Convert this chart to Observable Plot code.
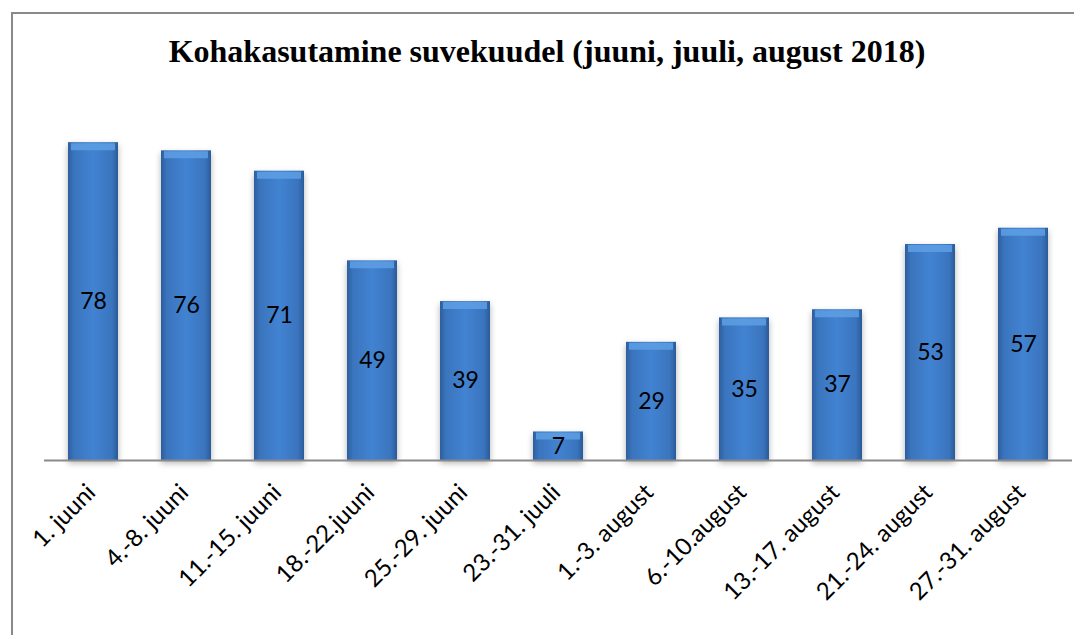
<!DOCTYPE html>
<html>
<head>
<meta charset="utf-8">
<script src="https://cdn.jsdelivr.net/npm/d3@7"></script>
<script src="https://cdn.jsdelivr.net/npm/@observablehq/plot@0.6"></script>
<style>
  html, body { margin: 0; padding: 0; background: #fff; }
  #wrap { position: relative; width: 1074px; height: 635px; overflow: hidden; }
  #frame { position: absolute; left: 11px; top: 12px; width: 1200px; height: 800px; border: 2px solid #8a8a8a; box-sizing: border-box; }
  #title { position: absolute; left: 0; top: 33px; width: 1094px; text-align: center; font-family: "Liberation Serif", "Times New Roman", serif; font-weight: bold; font-size: 32px; color: #000; white-space: nowrap; }
  #chart { position: absolute; left: 0; top: 0; }
</style>
</head>
<body>
<div id="wrap">
  <div id="frame"></div>
  <div id="chart"></div>
  <div id="title">Kohakasutamine suvekuudel (juuni, juuli, august 2018)</div>
</div>
<script>
const categories = ["1. juuni", "4.-8. juuni", "11.-15. juuni", "18.-22.juuni", "25.-29. juuni", "23.-31. juuli", "1.-3. august", "6.-10.august", "13.-17. august", "21.-24. august", "27.-31. august"];
const values = [78, 76, 71, 49, 39, 7, 29, 35, 37, 53, 57];

const data = categories.map((c, i) => ({category: c, value: values[i]}));

const plot = Plot.plot({
  width: 1074,
  height: 635,
  marginTop: 134,
  marginBottom: 175,
  marginLeft: 44,
  marginRight: 2,
  style: {background: "transparent", overflow: "visible"},
  x: {domain: categories, paddingInner: 0.46, paddingOuter: 0.245, label: null},
  y: {domain: [0, 80], axis: null},
  marks: [
    Plot.barY(data, {x: "category", y: "value", fill: "url(#barGrad)", className: "bars"}),
    Plot.tickY(data, {x: "category", y: "value", stroke: "#5e9fe4", strokeWidth: 7, dy: 4, inset: 3, strokeOpacity: 0.85}),
    Plot.ruleY([0], {stroke: "#8a8a8a", strokeWidth: 2}),
    Plot.text(data, {x: "category", y: d => d.value / 2, text: d => String(d.value), fontSize: 23, fill: "#000", fontFamily: "Lato, 'Open Sans', sans-serif"}),
    Plot.axisX({tickSize: 0, tickPadding: 20, dx: -2, dy: 8, tickRotate: -45, fontSize: 24, fontFamily: "Lato, 'Open Sans', sans-serif", label: null, color: "#000"})
  ]
});

const svg = d3.select(plot);
const defs = svg.insert("defs", ":first-child");
const g = defs.append("linearGradient").attr("id", "barGrad").attr("x1", 0).attr("x2", 1).attr("y1", 0).attr("y2", 0);
g.append("stop").attr("offset", "0%").attr("stop-color", "#2d5f9f");
g.append("stop").attr("offset", "12%").attr("stop-color", "#3a74bd");
g.append("stop").attr("offset", "50%").attr("stop-color", "#4283d2");
g.append("stop").attr("offset", "88%").attr("stop-color", "#3a74bd");
g.append("stop").attr("offset", "100%").attr("stop-color", "#2b5b98");
const f = defs.append("filter").attr("id", "shadow").attr("x", "-20%").attr("y", "-10%").attr("width", "140%").attr("height", "130%");
f.append("feDropShadow").attr("dx", 0).attr("dy", 3).attr("stdDeviation", 3).attr("flood-color", "#000").attr("flood-opacity", 0.3);
svg.selectAll("g.bars").attr("filter", "url(#shadow)");

document.getElementById("chart").appendChild(plot);
</script>
</body>
</html>
